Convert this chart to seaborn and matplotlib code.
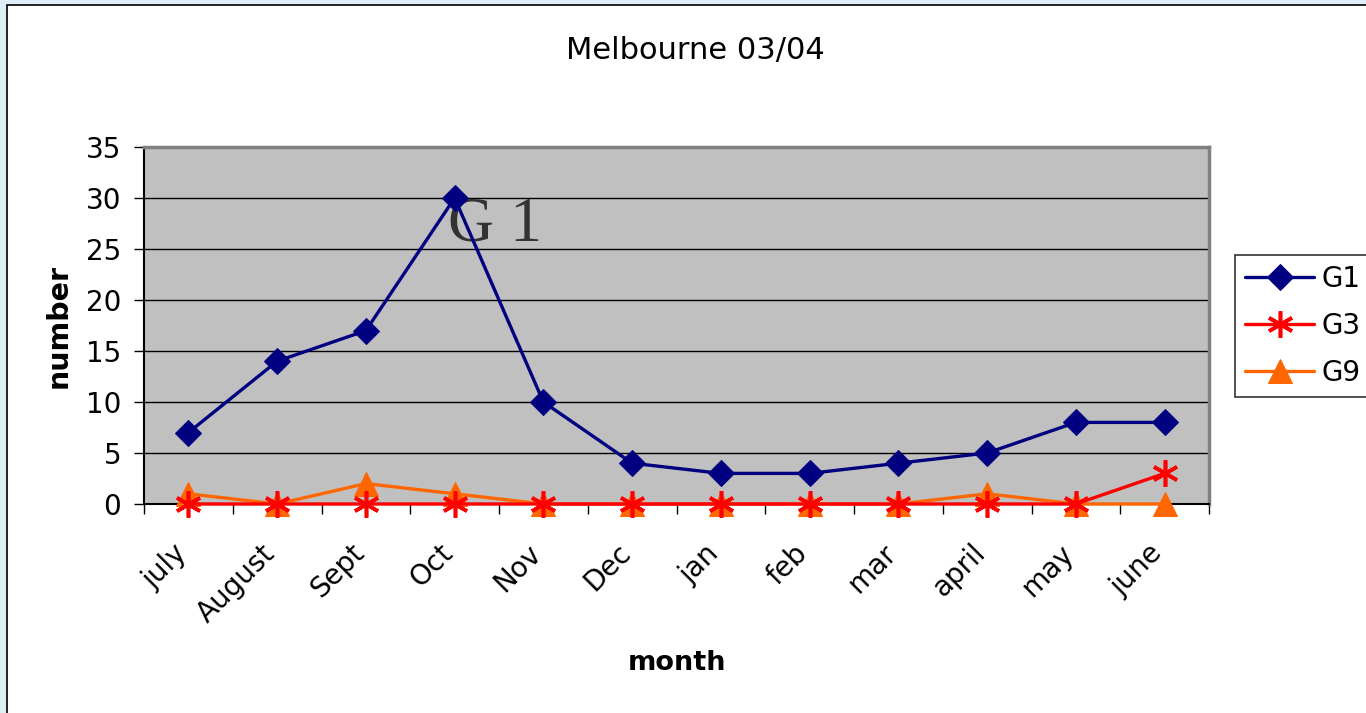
import numpy as np
import pandas as pd
import matplotlib
matplotlib.use("Agg")
import matplotlib.pyplot as plt
from matplotlib.patches import Rectangle
from matplotlib.transforms import ScaledTranslation
import seaborn as sns

months = ["july", "August", "Sept", "Oct", "Nov", "Dec", "jan", "feb", "mar", "april", "may", "june"]
g1 = [7, 14, 17, 30, 10, 4, 3, 3, 4, 5, 8, 8]
g3 = [0, 0, 0, 0, 0, 0, 0, 0, 0, 0, 0, 3]
g9 = [1, 0, 2, 1, 0, 0, 0, 0, 0, 1, 0, 0]
series_names = ["G1", "G3", "G9"]
yticks = [0, 5, 10, 15, 20, 25, 30, 35]

sns.set_theme(style="white")
plt.rcParams["font.family"] = ["DejaVu Sans"]
plt.rcParams.update({"text.color": "black", "axes.labelcolor": "black",
                     "xtick.color": "black", "ytick.color": "black"})

W, H = 1366, 713
fig = plt.figure(figsize=(W / 100, H / 100), dpi=100)
fig.patch.set_facecolor("#dfeef6")
fig.add_artist(Rectangle((7 / W, -0.01), 1.1, (H - 5) / H + 0.01, transform=fig.transFigure,
                         facecolor="white", edgecolor="black", linewidth=1.2, zorder=-10))

ax = fig.add_axes([144 / W, 1 - 504 / H, (1209 - 144) / W, (504 - 147) / H])
ax.set_facecolor("#c0c0c0")

x = np.arange(len(months))
df = pd.DataFrame({"x": x, "G1": g1, "G3": g3, "G9": g9})

sns.lineplot(data=df, x="x", y="G9", ax=ax, color="#ff6600", marker="^", markersize=17,
             markeredgecolor="#ff6600", linewidth=2.4, label="G9", zorder=3, clip_on=False)
sns.lineplot(data=df, x="x", y="G3", ax=ax, color="#ff0000", marker=(6, 2, 0), markersize=19,
             markeredgecolor="#ff0000", markeredgewidth=2.6, linewidth=2.4, label="G3", zorder=4, clip_on=False)
sns.lineplot(data=df, x="x", y="G1", ax=ax, color="#000080", marker="D", markersize=13.5,
             markeredgecolor="#000080", linewidth=2.4, label="G1", zorder=5, clip_on=False)

ax.set_xlim(-0.5, len(months) - 0.5)
ax.set_ylim(0, 35)
ax.set_yticks(yticks)
ax.set_yticklabels([str(v) for v in yticks], fontsize=20)
ax.yaxis.grid(True, color="black", linewidth=1)
ax.xaxis.grid(False)
ax.set_axisbelow(True)

ax.set_xticks(np.arange(-0.5, len(months), 1.0))
ax.set_xticklabels([])
ax.set_xticks(x, minor=True)
ax.set_xticklabels(months, minor=True, rotation=45, ha="right", va="top",
                   rotation_mode="anchor", fontsize=20)
ax.tick_params(axis="x", which="major", direction="out", length=7.5, width=1, bottom=True)
ax.tick_params(axis="x", which="minor", length=0, pad=18)
ax.tick_params(axis="y", direction="out", length=7.5, width=1, left=True, pad=9)
offset = ScaledTranslation(-16 / 100, -10 / 100, fig.dpi_scale_trans)
for lab in ax.get_xticklabels(minor=True):
    lab.set_transform(lab.get_transform() + offset)

for s in ["left", "bottom"]:
    ax.spines[s].set_color("black")
    ax.spines[s].set_linewidth(1.5)
for s in ["top", "right"]:
    ax.spines[s].set_visible(True)
    ax.spines[s].set_color("#808080")
    ax.spines[s].set_linewidth(2.5)

ax.set_xlabel("month", fontsize=19.5, fontweight="bold", labelpad=16)
ax.set_ylabel("number", fontsize=20.5, fontweight="bold", labelpad=9)

ax.text(2.93, 25.8, "G 1", fontsize=46, family="Liberation Serif", color="#333333",
        ha="left", va="baseline", zorder=2)

fig.text(695 / W, 1 - 50 / H, "Melbourne 03/04", fontsize=22, ha="center", va="center")

ax.get_legend().remove()
handles, labels = ax.get_legend_handles_labels()
order = [labels.index(n) for n in series_names]
leg = fig.legend([handles[i] for i in order], [labels[i] for i in order],
                 loc="upper left", bbox_to_anchor=(1235 / W, 1 - 255 / H),
                 fontsize=20, frameon=True, fancybox=False, edgecolor="black",
                 handlelength=2.5, handletextpad=0.25, labelspacing=0.68,
                 borderpad=0.36, borderaxespad=0)
leg.get_frame().set_linewidth(1.2)

fig.savefig("out.png", dpi=100)
